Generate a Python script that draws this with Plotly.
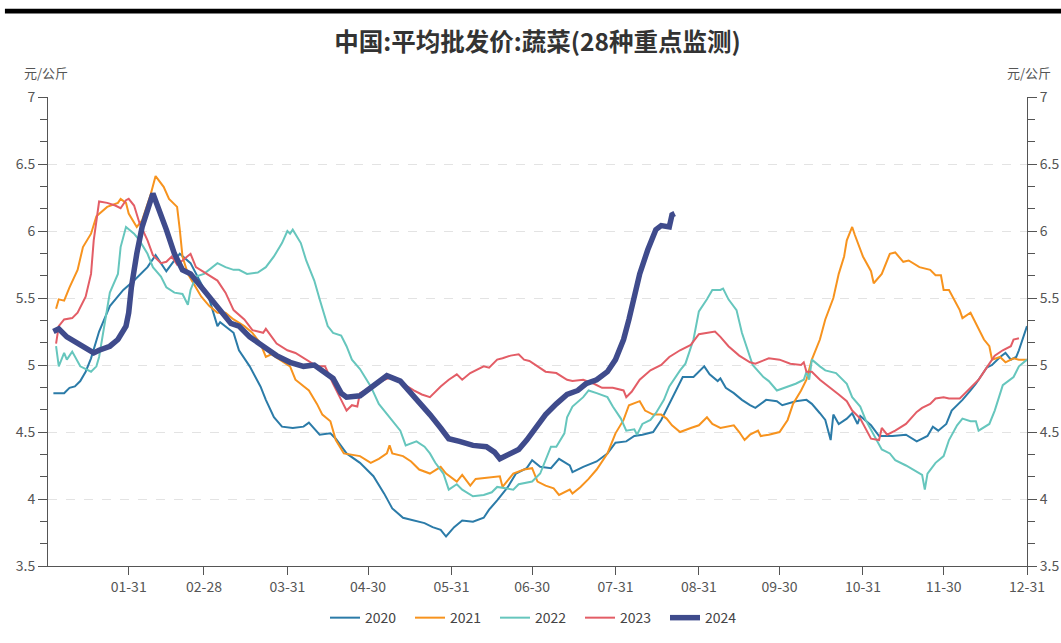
import plotly.graph_objects as go
import pandas as pd

# 日期按一年中的第几天(0 = 01-01)记录,绘图时统一映射到同一年
base = pd.Timestamp("2023-01-01")

years = ["2020", "2021", "2022", "2023", "2024"]

d2020 = [2, 6, 8, 10, 12, 14, 16, 19, 23, 28, 32, 37, 40, 44, 47, 49, 53, 57, 60, 63,
         64, 69, 71, 75, 79, 81, 84, 87, 91, 95, 97, 101, 105, 107, 111, 116, 121, 125, 128, 132,
         136, 140, 143, 146, 148, 151, 154, 158, 162, 164, 167, 171, 174, 178, 180, 183, 187, 190, 194, 195,
         199, 204, 208, 211, 215, 218, 221, 225, 228, 231, 234, 236, 240, 244, 246, 249, 250, 252, 255, 258,
         261, 263, 267, 271, 273, 278, 282, 284, 287, 289, 291, 292, 294, 297, 299, 301, 302, 306, 309, 314,
         319, 323, 327, 329, 331, 334, 336, 340, 343, 345, 349, 351, 354, 356, 358, 360, 361, 364]
v2020 = [4.79, 4.79, 4.83, 4.84, 4.88, 4.95, 5.05, 5.25, 5.44, 5.56, 5.63, 5.73, 5.82, 5.70, 5.78, 5.83, 5.76, 5.61, 5.49, 5.29,
         5.32, 5.24, 5.11, 4.99, 4.84, 4.74, 4.61, 4.54, 4.53, 4.54, 4.57, 4.48, 4.49, 4.45, 4.34, 4.27, 4.17, 4.04, 3.93, 3.86,
         3.84, 3.82, 3.79, 3.77, 3.72, 3.79, 3.84, 3.83, 3.86, 3.92, 3.99, 4.09, 4.19, 4.23, 4.29, 4.24, 4.23, 4.30, 4.25, 4.20,
         4.24, 4.28, 4.34, 4.42, 4.43, 4.47, 4.48, 4.50, 4.59, 4.71, 4.84, 4.91, 4.91, 4.99, 4.93, 4.88, 4.90, 4.83, 4.79, 4.74,
         4.70, 4.68, 4.74, 4.73, 4.70, 4.73, 4.74, 4.71, 4.64, 4.59, 4.44, 4.63, 4.56, 4.60, 4.64, 4.56, 4.62, 4.55, 4.47, 4.47,
         4.48, 4.43, 4.47, 4.54, 4.51, 4.56, 4.66, 4.74, 4.81, 4.86, 4.98, 5.00, 5.06, 5.09, 5.04, 5.06, 5.11, 5.29]

d2021 = [3, 4, 6, 8, 11, 13, 16, 18, 22, 26, 27, 29, 30, 33, 35, 38, 40, 43, 45, 48,
         49, 50, 52, 54, 57, 60, 63, 66, 69, 73, 76, 79, 81, 83, 86, 90, 92, 94, 97, 100,
         102, 105, 107, 110, 113, 116, 120, 123, 126, 127, 128, 132, 135, 138, 142, 146, 148, 152, 154, 157,
         159, 163, 168, 169, 173, 177, 180, 182, 185, 188, 190, 194, 195, 198, 201, 204, 208, 211, 214, 216,
         220, 222, 225, 228, 230, 232, 235, 239, 242, 245, 247, 250, 255, 257, 259, 261, 264, 265, 268, 272,
         275, 277, 280, 282, 284, 287, 289, 292, 294, 296, 297, 299, 300, 303, 306, 307, 310, 313, 315, 318,
         320, 324, 328, 330, 332, 333, 335, 339, 340, 343, 345, 348, 350, 351, 354, 356, 359, 361, 364]
v2021 = [5.42, 5.49, 5.48, 5.58, 5.71, 5.88, 5.98, 6.11, 6.18, 6.21, 6.24, 6.21, 6.13, 6.03, 6.08, 6.26, 6.41, 6.33, 6.24, 6.18,
         6.01, 5.81, 5.68, 5.61, 5.51, 5.44, 5.39, 5.39, 5.34, 5.29, 5.24, 5.16, 5.06, 5.08, 5.04, 4.99, 4.89, 4.86, 4.81, 4.71,
         4.63, 4.58, 4.44, 4.34, 4.33, 4.32, 4.27, 4.30, 4.34, 4.40, 4.34, 4.32, 4.28, 4.22, 4.19, 4.24, 4.19, 4.13, 4.18, 4.10,
         4.15, 4.16, 4.17, 4.09, 4.19, 4.22, 4.23, 4.13, 4.10, 4.08, 4.03, 4.07, 4.04, 4.09, 4.15, 4.22, 4.34, 4.49, 4.59, 4.70,
         4.73, 4.66, 4.63, 4.63, 4.60, 4.55, 4.50, 4.53, 4.55, 4.61, 4.56, 4.53, 4.55, 4.50, 4.44, 4.48, 4.51, 4.47, 4.48, 4.50,
         4.59, 4.71, 4.81, 4.89, 5.04, 5.19, 5.34, 5.50, 5.68, 5.81, 5.93, 6.03, 5.97, 5.81, 5.70, 5.61, 5.68, 5.83, 5.84, 5.77,
         5.78, 5.73, 5.71, 5.67, 5.67, 5.56, 5.56, 5.41, 5.35, 5.39, 5.31, 5.19, 5.14, 5.04, 5.06, 5.02, 5.05, 5.04, 5.04]

d2022 = [3, 4, 6, 7, 9, 12, 16, 18, 19, 21, 23, 26, 27, 29, 32, 34, 37, 39, 42, 44,
         47, 50, 52, 53, 55, 58, 61, 63, 66, 69, 71, 74, 78, 81, 84, 87, 89, 90, 91, 94,
         96, 99, 101, 104, 106, 109, 111, 113, 116, 120, 123, 127, 131, 133, 137, 140, 142, 144, 147, 149,
         152, 154, 158, 162, 165, 167, 170, 173, 175, 180, 183, 185, 187, 189, 192, 193, 195, 199, 201, 204,
         208, 210, 213, 215, 218, 219, 221, 224, 226, 229, 231, 235, 237, 240, 242, 245, 247, 250, 251, 253,
         256, 258, 261, 262, 266, 268, 271, 275, 278, 281, 282, 283, 284, 287, 289, 293, 297, 299, 302, 304,
         308, 310, 313, 315, 319, 323, 325, 326, 327, 330, 333, 335, 338, 340, 343, 345, 346, 350, 352, 355,
         358, 359, 361, 364]
v2022 = [5.14, 4.99, 5.09, 5.04, 5.10, 4.99, 4.95, 4.99, 5.06, 5.29, 5.54, 5.68, 5.88, 6.03, 5.98, 5.93, 5.83, 5.73, 5.66, 5.58,
         5.54, 5.53, 5.45, 5.56, 5.66, 5.68, 5.73, 5.76, 5.73, 5.71, 5.71, 5.68, 5.69, 5.73, 5.81, 5.91, 6.00, 5.98, 6.01, 5.91,
         5.78, 5.63, 5.49, 5.29, 5.24, 5.22, 5.14, 5.04, 4.97, 4.84, 4.71, 4.61, 4.51, 4.40, 4.43, 4.39, 4.34, 4.27, 4.19, 4.07,
         4.11, 4.07, 4.02, 4.03, 4.05, 4.09, 4.08, 4.07, 4.11, 4.13, 4.19, 4.29, 4.39, 4.39, 4.49, 4.61, 4.69, 4.76, 4.81, 4.79,
         4.76, 4.69, 4.60, 4.51, 4.52, 4.48, 4.56, 4.59, 4.64, 4.74, 4.84, 4.96, 5.01, 5.19, 5.40, 5.49, 5.56, 5.56, 5.57, 5.49,
         5.41, 5.24, 5.06, 5.00, 4.91, 4.88, 4.81, 4.84, 4.86, 4.89, 4.95, 4.89, 5.04, 4.99, 4.96, 4.94, 4.86, 4.76, 4.69, 4.59,
         4.44, 4.37, 4.34, 4.29, 4.25, 4.20, 4.18, 4.07, 4.19, 4.27, 4.32, 4.44, 4.55, 4.60, 4.58, 4.58, 4.51, 4.56, 4.66, 4.85,
         4.90, 4.91, 4.99, 5.04]

d2023 = [3, 4, 6, 9, 11, 14, 16, 17, 19, 22, 25, 27, 29, 30, 32, 34, 37, 39, 42, 44,
         46, 48, 50, 53, 55, 59, 63, 66, 69, 73, 76, 80, 81, 85, 89, 92, 96, 100, 103, 105,
         106, 109, 111, 113, 115, 116, 118, 121, 125, 128, 132, 136, 139, 142, 146, 149, 152, 154, 157, 159,
         162, 164, 167, 169, 172, 175, 177, 179, 183, 185, 189, 193, 195, 199, 203, 206, 210, 214, 215, 217,
         220, 224, 228, 231, 235, 239, 242, 245, 248, 250, 253, 257, 261, 263, 268, 272, 276, 280, 281, 282,
         284, 287, 291, 294, 297, 299, 302, 304, 306, 309, 310, 312, 315, 319, 323, 325, 328, 330, 333, 335,
         339, 341, 344, 346, 349, 352, 355, 358, 359, 361]
v2023 = [5.16, 5.29, 5.34, 5.35, 5.39, 5.51, 5.68, 5.93, 6.22, 6.21, 6.19, 6.17, 6.23, 6.24, 6.19, 6.06, 5.93, 5.82, 5.76, 5.77,
         5.81, 5.75, 5.78, 5.83, 5.73, 5.68, 5.63, 5.54, 5.41, 5.34, 5.26, 5.24, 5.27, 5.16, 5.11, 5.09, 5.04, 4.99, 4.99, 4.90,
         4.86, 4.74, 4.66, 4.70, 4.69, 4.79, 4.81, 4.85, 4.89, 4.91, 4.86, 4.81, 4.78, 4.76, 4.84, 4.89, 4.93, 4.89, 4.94, 4.96,
         4.99, 4.98, 5.04, 5.05, 5.07, 5.08, 5.04, 5.03, 4.98, 4.95, 4.94, 4.89, 4.88, 4.89, 4.86, 4.83, 4.83, 4.81, 4.76, 4.80,
         4.89, 4.96, 5.00, 5.06, 5.11, 5.15, 5.23, 5.24, 5.25, 5.21, 5.14, 5.07, 5.02, 5.01, 5.05, 5.04, 5.01, 5.00, 5.02, 4.95,
         4.95, 4.89, 4.83, 4.78, 4.73, 4.66, 4.60, 4.53, 4.45, 4.44, 4.53, 4.48, 4.51, 4.56, 4.65, 4.68, 4.71, 4.75, 4.76, 4.75,
         4.75, 4.79, 4.85, 4.89, 4.98, 5.07, 5.11, 5.14, 5.19, 5.20]

d2024 = [2, 4, 7, 11, 14, 17, 19, 23, 26, 29, 30, 31, 33, 35, 39, 41, 44, 47, 50, 53,
         55, 58, 61, 65, 68, 71, 75, 80, 85, 90, 95, 99, 102, 106, 109, 111, 116, 121, 126, 131,
         135, 138, 142, 146, 149, 153, 158, 163, 166, 168, 172, 175, 178, 182, 185, 189, 193, 197, 200, 204,
         208, 211, 214, 216, 218, 220, 223, 226, 228, 231, 232, 233]
v2024 = [5.25, 5.27, 5.21, 5.16, 5.12, 5.09, 5.11, 5.14, 5.19, 5.29, 5.39, 5.58, 5.83, 6.03, 6.28, 6.18, 6.01, 5.83, 5.71, 5.68,
         5.63, 5.57, 5.49, 5.39, 5.31, 5.29, 5.21, 5.14, 5.07, 5.02, 4.99, 5.00, 4.96, 4.90, 4.79, 4.76, 4.77, 4.84, 4.92, 4.88,
         4.79, 4.73, 4.63, 4.53, 4.45, 4.43, 4.40, 4.39, 4.35, 4.30, 4.34, 4.37, 4.44, 4.54, 4.63, 4.71, 4.78, 4.81, 4.86, 4.89,
         4.95, 5.04, 5.19, 5.34, 5.49, 5.68, 5.86, 6.01, 6.04, 6.03, 6.12, 6.13]

tick_labels = ["01-31", "02-28", "03-31", "04-30", "05-31", "06-30",
               "07-31", "08-31", "09-30", "10-31", "11-30", "12-31"]

colors = ["#2b7ba8", "#f7931e", "#66c6bd", "#e35d66", "#3f4b8c"]
widths = [2, 2, 2, 2, 5.5]


def to_dates(days):
    return [base + pd.Timedelta(days=d) for d in days]


series = [(d2020, v2020), (d2021, v2021), (d2022, v2022), (d2023, v2023), (d2024, v2024)]

fig = go.Figure()
for name, (dd, vv), c, w in zip(years, series, colors, widths):
    # 2024 放在右轴(与左轴同刻度),右侧坐标轴才会画出来
    fig.add_trace(go.Scatter(x=to_dates(dd), y=vv, name=name, mode='lines',
                             yaxis='y2' if name == "2024" else 'y',
                             line=dict(color=c, width=w)))

axis_color = '#555555'
tick_font = dict(size=14, color='#555555')
minor_ticks = dict(dtick=0.5 / 3, ticks='outside', ticklen=7, tickcolor=axis_color, showgrid=False)

# 整页大小;页面外边距在 post_script 里去掉,关掉边距自动扩展,绘图区位置固定
W, H = 1061, 643
fig.update_layout(
    width=W, height=H,
    margin=dict(l=48, r=34, t=97, b=77, autoexpand=False),
    plot_bgcolor='white', paper_bgcolor='white',
    font=dict(family='Noto Sans CJK SC, Noto Sans, sans-serif', color='#444444'),
    title=dict(text='<b>中国:平均批发价:蔬菜(28种重点监测)</b>', x=0.5, xref='paper',
               y=1 - 42 / H, yanchor='middle', font=dict(size=24.5, color='#333333')),
    xaxis=dict(type='date', range=[base, base + pd.Timedelta(days=364)],
               tickvals=["2023-" + t for t in tick_labels], ticktext=tick_labels,
               showgrid=False, zeroline=False, showline=True, linecolor=axis_color,
               ticks='outside', ticklen=8, tickcolor=axis_color, tickfont=tick_font),
    yaxis=dict(range=[3.5, 7], dtick=0.5, tick0=3.5, showline=True, linecolor=axis_color,
               ticks='outside', ticklen=9, tickcolor=axis_color, tickfont=tick_font,
               showgrid=True, gridcolor='#e3e3e3', griddash='dash', zeroline=False,
               minor=minor_ticks),
    yaxis2=dict(range=[3.5, 7], dtick=0.5, tick0=3.5, overlaying='y', side='right',
                showline=True, linecolor=axis_color, ticks='outside', ticklen=9,
                tickcolor=axis_color, tickfont=tick_font, showgrid=False, zeroline=False,
                minor=minor_ticks),
    legend=dict(orientation='h', x=0.5, xanchor='center', y=-0.111, yanchor='middle',
                itemwidth=30, entrywidth=40, font=dict(size=14, color='#444444')),
    annotations=[
        dict(text='元/公斤', x=-0.002, xref='paper', y=1.053, yref='paper', showarrow=False,
             xanchor='center', yanchor='middle', font=dict(size=13, color='#555555')),
        dict(text='元/公斤', x=1.002, xref='paper', y=1.053, yref='paper', showarrow=False,
             xanchor='center', yanchor='middle', font=dict(size=13, color='#555555')),
    ],
    shapes=[dict(type='rect', xref='paper', yref='paper', x0=-0.044, x1=1.04,
                 y0=1.178, y1=1.188, fillcolor='black', line=dict(width=0))],
)

fig.write_html("out.html", config={'displayModeBar': False},
               post_script="document.body.style.margin='0';")
